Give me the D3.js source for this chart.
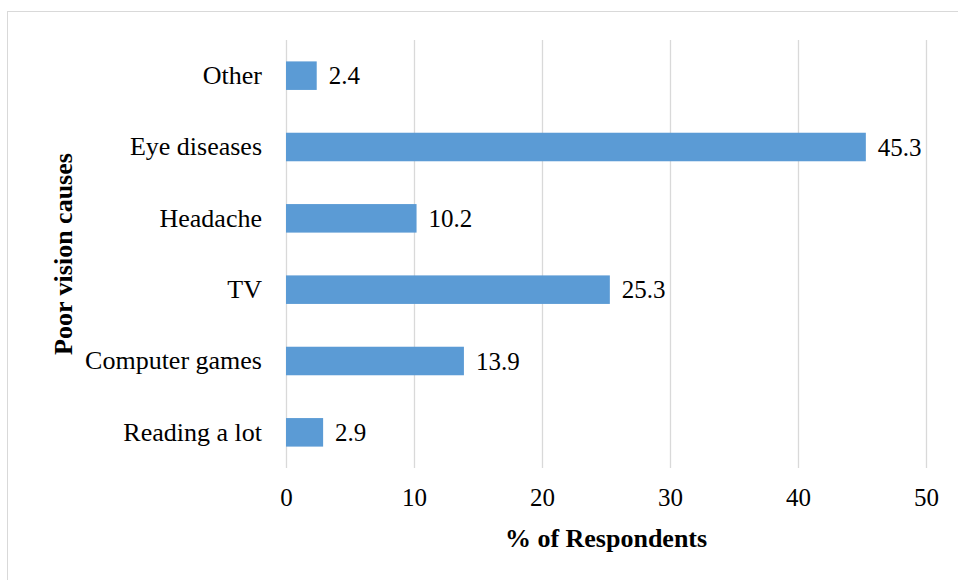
<!DOCTYPE html>
<html><head><meta charset="utf-8">
<script src="https://cdn.jsdelivr.net/npm/d3@7"></script>
<style>body{margin:0;background:#fff}svg{display:block}text{font-family:"Liberation Serif","Times New Roman",serif;fill:#000}</style>
</head><body>
<script>
const categories = ["Other","Eye diseases","Headache","TV","Computer games","Reading a lot"];
const values = [2.4,45.3,10.2,25.3,13.9,2.9];
const xTicks = [0,10,20,30,40,50];
const xTitle = "% of Respondents";
const yTitle = "Poor vision causes";

const W=958,H=580;
const m={left:286,right:32,top:40,bottom:112};
const svg=d3.select("body").append("svg").attr("width",W).attr("height",H);
svg.append("rect").attr("x",7.5).attr("y",11.5).attr("width",W).attr("height",H).attr("fill","none").attr("stroke","#d9d9d9");

const x=d3.scaleLinear().domain([0,50]).range([m.left,W-m.right]);
const y=d3.scaleBand().domain(categories).range([m.top,H-m.bottom]).paddingInner(0.6).paddingOuter(0.3);

svg.append("g").selectAll("line").data(xTicks).join("line")
  .attr("x1",d=>Math.round(x(d))+0.5).attr("x2",d=>Math.round(x(d))+0.5)
  .attr("y1",m.top).attr("y2",H-m.bottom)
  .attr("stroke","#d9d9d9").attr("stroke-width",1.3);

svg.append("g").selectAll("rect").data(values).join("rect")
  .attr("x",x(0)).attr("y",(d,i)=>y(categories[i]))
  .attr("width",d=>x(d)-x(0)).attr("height",y.bandwidth())
  .attr("fill","#5b9bd5");

svg.append("g").selectAll("text").data(values).join("text")
  .attr("x",d=>x(d)+12).attr("y",(d,i)=>y(categories[i])+y.bandwidth()/2)
  .attr("dy","0.35em").attr("font-size",25).text(d=>d.toFixed(1));

const xa=svg.append("g").attr("transform",`translate(0,${H-m.bottom})`)
  .call(d3.axisBottom(x).tickValues(xTicks).tickSize(0).tickPadding(20).tickFormat(d3.format("d")));
xa.select(".domain").remove();
xa.selectAll("text").attr("font-size",25).attr("font-family","Liberation Serif");

const ya=svg.append("g").attr("transform",`translate(${m.left},0)`)
  .call(d3.axisLeft(y).tickSize(0).tickPadding(24));
ya.select(".domain").remove();
ya.selectAll("text").attr("font-size",26).attr("font-family","Liberation Serif");

svg.append("text").attr("x",(x(0)+x(50))/2).attr("y",547).attr("text-anchor","middle")
  .attr("font-size",26).attr("font-weight","bold").text(xTitle);
svg.append("text").attr("transform",`translate(72,${(m.top+H-m.bottom)/2}) rotate(-90)`)
  .attr("text-anchor","middle").attr("font-size",26).attr("font-weight","bold").text(yTitle);
</script>
</body></html>
